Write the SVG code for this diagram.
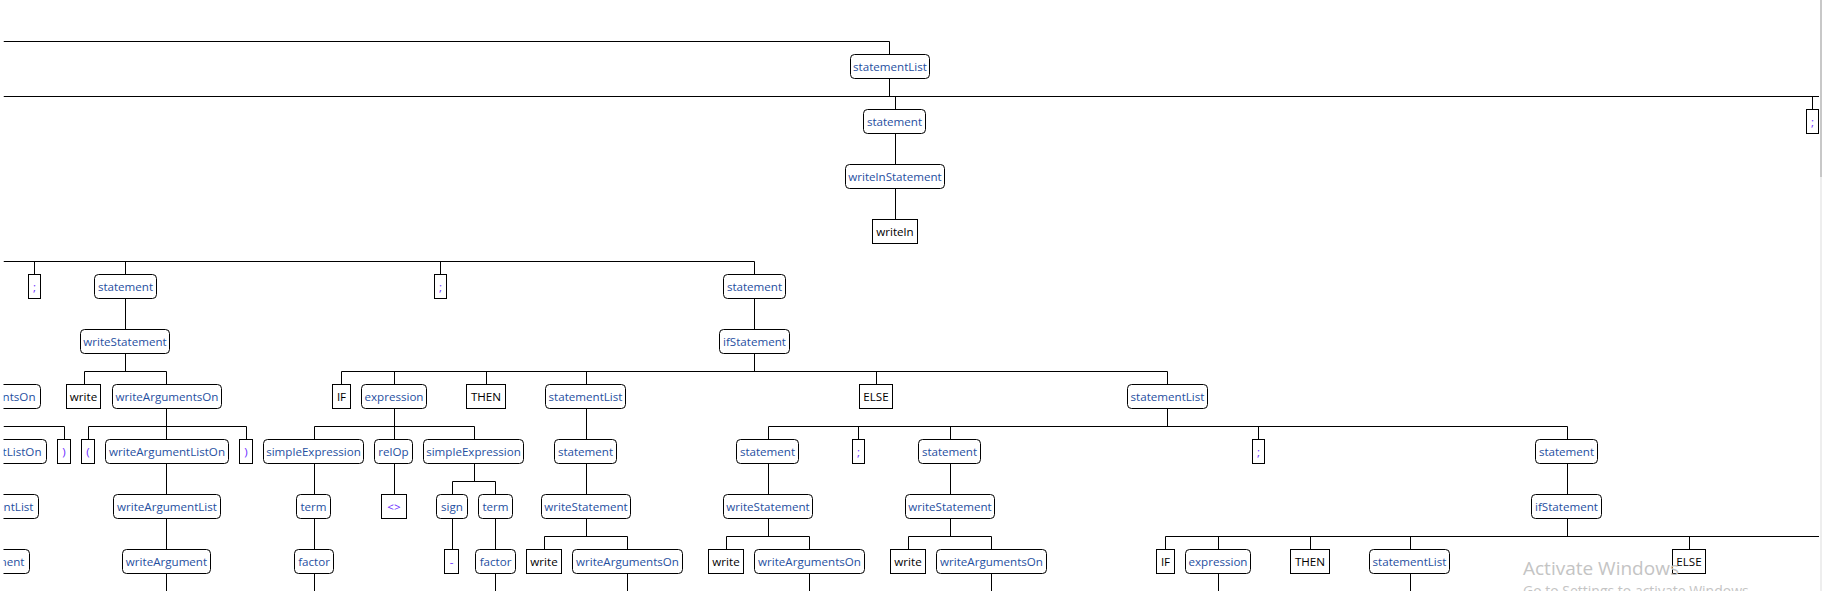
<svg xmlns="http://www.w3.org/2000/svg" width="1822" height="591" viewBox="0 0 1822 591">
<style>
.n rect{fill:#fff;stroke:#000;stroke-width:1}
.n text{fill:#1f4f9f}
.t rect{fill:#fff;stroke:#000;stroke-width:1}
.t text{fill:#000}
.s rect{fill:#fff;stroke:#000;stroke-width:1}
.s text{fill:#6a2cff}
text{font-family:"Open Sans","Noto Sans","Liberation Sans",sans-serif;font-size:11.6px;text-anchor:middle}
.p text{text-anchor:end}
#edges path{fill:none;stroke:#000;stroke-width:1}
text.wm1{fill:#c4c4c4;text-anchor:start;font-size:19px}
text.wm2{fill:#c4c4c4;text-anchor:start;font-size:14px}
</style>
<defs>
<clipPath id="vp"><rect x="3.5" y="0" width="1818.5" height="591"/></clipPath>
</defs>
<rect x="0" y="0" width="1822" height="591" fill="#fff"/>
<g clip-path="url(#vp)">
<g id="edges">
<path d="M3.5 41.5H889.5V54.5"/>
<path d="M889.5 78.5V96.5M3.5 96.5H1819M895.5 96.5V109.5M1812.5 96.5V109.5"/>
<path d="M895.5 133.5V164.5M895.5 188.5V219.5"/>
<path d="M3.5 261.5H754.5V274.5M34.5 261.5V274.5M125.5 261.5V274.5M440.5 261.5V274.5"/>
<path d="M125.5 298.5V329.5M754.5 298.5V329.5"/>
<path d="M125.5 353.5V371.5M84.5 371.5H166.5M84.5 371.5V384.5M166.5 371.5V384.5"/>
<path d="M754.5 353.5V371.5M341.5 371.5H1167.5M341.5 371.5V384.5M394.5 371.5V384.5M486.5 371.5V384.5M586.5 371.5V384.5M876.5 371.5V384.5M1167.5 371.5V384.5"/>
<path d="M3.5 426.5H64.5V439.5"/>
<path d="M166.5 408.5V426.5M88.5 426.5H246.5M88.5 426.5V439.5M166.5 426.5V439.5M246.5 426.5V439.5"/>
<path d="M394.5 408.5V426.5M314.5 426.5H474.5M314.5 426.5V439.5M394.5 426.5V439.5M474.5 426.5V439.5"/>
<path d="M586.5 408.5V439.5"/>
<path d="M1167.5 408.5V426.5M768.5 426.5H1567.5M768.5 426.5V439.5M858.5 426.5V439.5M950.5 426.5V439.5M1258.5 426.5V439.5M1567.5 426.5V439.5"/>
<path d="M166.5 463.5V494.5M314.5 463.5V494.5M394.5 463.5V494.5M586.5 463.5V494.5M768.5 463.5V494.5M950.5 463.5V494.5M1567.5 463.5V494.5"/>
<path d="M474.5 463.5V481.5M452.5 481.5H495.5M452.5 481.5V494.5M495.5 481.5V494.5"/>
<path d="M166.5 518.5V549.5M314.5 518.5V549.5M452.5 518.5V549.5M495.5 518.5V549.5"/>
<path d="M586.5 518.5V536.5M544.5 536.5H627.5M544.5 536.5V549.5M627.5 536.5V549.5"/>
<path d="M768.5 518.5V536.5M726.5 536.5H809.5M726.5 536.5V549.5M809.5 536.5V549.5"/>
<path d="M950.5 518.5V536.5M908.5 536.5H991.5M908.5 536.5V549.5M991.5 536.5V549.5"/>
<path d="M1567.5 518.5V536.5M1165.5 536.5H1819M1165.5 536.5V549.5M1218.5 536.5V549.5M1310.5 536.5V549.5M1410.5 536.5V549.5M1689.5 536.5V549.5"/>
<path d="M166.5 573.5V591M314.5 573.5V591M495.5 573.5V591M627.5 573.5V591M809.5 573.5V591M991.5 573.5V591M1218.5 573.5V591M1410.5 573.5V591"/>
</g>

<g id="r1_statementList" class="n"><rect x="850.5" y="54.5" width="79" height="24" rx="4"/><text x="890" y="71">statementList</text></g>

<g id="r2_statement" class="n"><rect x="863.5" y="109.5" width="62" height="24" rx="4"/><text x="894.5" y="126">statement</text></g>
<g id="r2_semi" class="s"><rect x="1806.5" y="109.5" width="12" height="24"/><text x="1812.5" y="126">;</text></g>

<g id="r3_writelnStatement" class="n"><rect x="845.5" y="164.5" width="99" height="24" rx="4"/><text x="895" y="181">writelnStatement</text></g>
<g id="r4_writeln" class="t"><rect x="872.5" y="219.5" width="45" height="24"/><text x="895" y="236">writeln</text></g>

<g id="r5_semi1" class="s"><rect x="28.5" y="274.5" width="12" height="24"/><text x="34.5" y="291">;</text></g>
<g id="r5_statement1" class="n"><rect x="94.5" y="274.5" width="62" height="24" rx="4"/><text x="125.5" y="291">statement</text></g>
<g id="r5_semi2" class="s"><rect x="434.5" y="274.5" width="12" height="24"/><text x="440.5" y="291">;</text></g>
<g id="r5_statement2" class="n"><rect x="723.5" y="274.5" width="62" height="24" rx="4"/><text x="754.5" y="291">statement</text></g>

<g id="r6_writeStatement" class="n"><rect x="80.5" y="329.5" width="89" height="24" rx="4"/><text x="125" y="346">writeStatement</text></g>
<g id="r6_ifStatement" class="n"><rect x="719.5" y="329.5" width="70" height="24" rx="4"/><text x="754.5" y="346">ifStatement</text></g>

<g id="r7_partial" class="n p"><rect x="-70" y="384.5" width="110.5" height="24" rx="4"/><text x="35.5" y="401">ntsOn</text></g>
<g id="r7_write" class="t"><rect x="66.5" y="384.5" width="34" height="24"/><text x="83.5" y="401">write</text></g>
<g id="r7_writeArgumentsOn" class="n"><rect x="112.5" y="384.5" width="109" height="24" rx="4"/><text x="167" y="401">writeArgumentsOn</text></g>
<g id="r7_IF" class="t"><rect x="332.5" y="384.5" width="18" height="24"/><text x="341.5" y="401">IF</text></g>
<g id="r7_expression" class="n"><rect x="361.5" y="384.5" width="65" height="24" rx="4"/><text x="394" y="401">expression</text></g>
<g id="r7_THEN" class="t"><rect x="466.5" y="384.5" width="39" height="24"/><text x="486" y="401">THEN</text></g>
<g id="r7_statementList1" class="n"><rect x="545.5" y="384.5" width="80" height="24" rx="4"/><text x="585.5" y="401">statementList</text></g>
<g id="r7_ELSE" class="t"><rect x="859.5" y="384.5" width="33" height="24"/><text x="876" y="401">ELSE</text></g>
<g id="r7_statementList2" class="n"><rect x="1127.5" y="384.5" width="80" height="24" rx="4"/><text x="1167.5" y="401">statementList</text></g>

<g id="r8_partial" class="n p"><rect x="-80" y="439.5" width="126.5" height="24" rx="4"/><text x="41.5" y="456">tListOn</text></g>
<g id="r8_rparen1" class="s"><rect x="57.5" y="439.5" width="13" height="24"/><text x="64" y="456">)</text></g>
<g id="r8_lparen" class="s"><rect x="81.5" y="439.5" width="13" height="24"/><text x="88" y="456">(</text></g>
<g id="r8_writeArgumentListOn" class="n"><rect x="105.5" y="439.5" width="123" height="24" rx="4"/><text x="167" y="456">writeArgumentListOn</text></g>
<g id="r8_rparen2" class="s"><rect x="239.5" y="439.5" width="13" height="24"/><text x="246" y="456">)</text></g>
<g id="r8_simpleExpression1" class="n"><rect x="263.5" y="439.5" width="100" height="24" rx="4"/><text x="313.5" y="456">simpleExpression</text></g>
<g id="r8_relOp" class="n"><rect x="374.5" y="439.5" width="38" height="24" rx="4"/><text x="393.5" y="456">relOp</text></g>
<g id="r8_simpleExpression2" class="n"><rect x="423.5" y="439.5" width="100" height="24" rx="4"/><text x="473.5" y="456">simpleExpression</text></g>
<g id="r8_statement1" class="n"><rect x="554.5" y="439.5" width="62" height="24" rx="4"/><text x="585.5" y="456">statement</text></g>
<g id="r8_statement2" class="n"><rect x="736.5" y="439.5" width="62" height="24" rx="4"/><text x="767.5" y="456">statement</text></g>
<g id="r8_semi1" class="s"><rect x="852.5" y="439.5" width="12" height="24"/><text x="858.5" y="456">;</text></g>
<g id="r8_statement3" class="n"><rect x="918.5" y="439.5" width="62" height="24" rx="4"/><text x="949.5" y="456">statement</text></g>
<g id="r8_semi2" class="s"><rect x="1252.5" y="439.5" width="12" height="24"/><text x="1258.5" y="456">;</text></g>
<g id="r8_statement4" class="n"><rect x="1535.5" y="439.5" width="62" height="24" rx="4"/><text x="1566.5" y="456">statement</text></g>

<g id="r9_partial" class="n p"><rect x="-70" y="494.5" width="108.5" height="24" rx="4"/><text x="33.5" y="511">entList</text></g>
<g id="r9_writeArgumentList" class="n"><rect x="113.5" y="494.5" width="107" height="24" rx="4"/><text x="167" y="511">writeArgumentList</text></g>
<g id="r9_term1" class="n"><rect x="296.5" y="494.5" width="34" height="24" rx="4"/><text x="313.5" y="511">term</text></g>
<g id="r9_neq" class="s"><rect x="381.5" y="494.5" width="25" height="24"/><text x="394" y="511">&lt;&gt;</text></g>
<g id="r9_sign" class="n"><rect x="436.5" y="494.5" width="31" height="24" rx="4"/><text x="452" y="511">sign</text></g>
<g id="r9_term2" class="n"><rect x="478.5" y="494.5" width="34" height="24" rx="4"/><text x="495.5" y="511">term</text></g>
<g id="r9_writeStatement1" class="n"><rect x="541.5" y="494.5" width="89" height="24" rx="4"/><text x="586" y="511">writeStatement</text></g>
<g id="r9_writeStatement2" class="n"><rect x="723.5" y="494.5" width="89" height="24" rx="4"/><text x="768" y="511">writeStatement</text></g>
<g id="r9_writeStatement3" class="n"><rect x="905.5" y="494.5" width="89" height="24" rx="4"/><text x="950" y="511">writeStatement</text></g>
<g id="r9_ifStatement" class="n"><rect x="1531.5" y="494.5" width="70" height="24" rx="4"/><text x="1566.5" y="511">ifStatement</text></g>

<g id="r10_partial" class="n p"><rect x="-70" y="549.5" width="99.5" height="24" rx="4"/><text x="24.5" y="566">ment</text></g>
<g id="r10_writeArgument" class="n"><rect x="122.5" y="549.5" width="88" height="24" rx="4"/><text x="166.5" y="566">writeArgument</text></g>
<g id="r10_factor1" class="n"><rect x="294.5" y="549.5" width="39" height="24" rx="4"/><text x="314" y="566">factor</text></g>
<g id="r10_minus" class="s"><rect x="444.5" y="549.5" width="14" height="24"/><text x="451.5" y="566">-</text></g>
<g id="r10_factor2" class="n"><rect x="475.5" y="549.5" width="40" height="24" rx="4"/><text x="495.5" y="566">factor</text></g>
<g id="r10_write1" class="t"><rect x="526.5" y="549.5" width="35" height="24"/><text x="544" y="566">write</text></g>
<g id="r10_writeArgumentsOn1" class="n"><rect x="572.5" y="549.5" width="110" height="24" rx="4"/><text x="627.5" y="566">writeArgumentsOn</text></g>
<g id="r10_write2" class="t"><rect x="708.5" y="549.5" width="35" height="24"/><text x="726" y="566">write</text></g>
<g id="r10_writeArgumentsOn2" class="n"><rect x="754.5" y="549.5" width="110" height="24" rx="4"/><text x="809.5" y="566">writeArgumentsOn</text></g>
<g id="r10_write3" class="t"><rect x="890.5" y="549.5" width="35" height="24"/><text x="908" y="566">write</text></g>
<g id="r10_writeArgumentsOn3" class="n"><rect x="936.5" y="549.5" width="110" height="24" rx="4"/><text x="991.5" y="566">writeArgumentsOn</text></g>
<g id="r10_IF" class="t"><rect x="1156.5" y="549.5" width="18" height="24"/><text x="1165.5" y="566">IF</text></g>
<g id="r10_expression" class="n"><rect x="1185.5" y="549.5" width="65" height="24" rx="4"/><text x="1218" y="566">expression</text></g>
<g id="r10_THEN" class="t"><rect x="1290.5" y="549.5" width="39" height="24"/><text x="1310" y="566">THEN</text></g>
<g id="r10_statementList" class="n"><rect x="1369.5" y="549.5" width="80" height="24" rx="4"/><text x="1409.5" y="566">statementList</text></g>
<g id="r10_ELSE" class="t"><rect x="1672.5" y="549.5" width="33" height="24"/><text x="1689" y="566">ELSE</text></g>
</g>

<text class="wm1" x="1523" y="574.5">Activate Windows</text>
<text class="wm2" x="1523" y="595.5">Go to Settings to activate Windows.</text>
<rect x="1820" y="0" width="2" height="177" fill="#c8c8c8"/>
<rect x="1820" y="177" width="2" height="414" fill="#eeeeee"/>
</svg>
